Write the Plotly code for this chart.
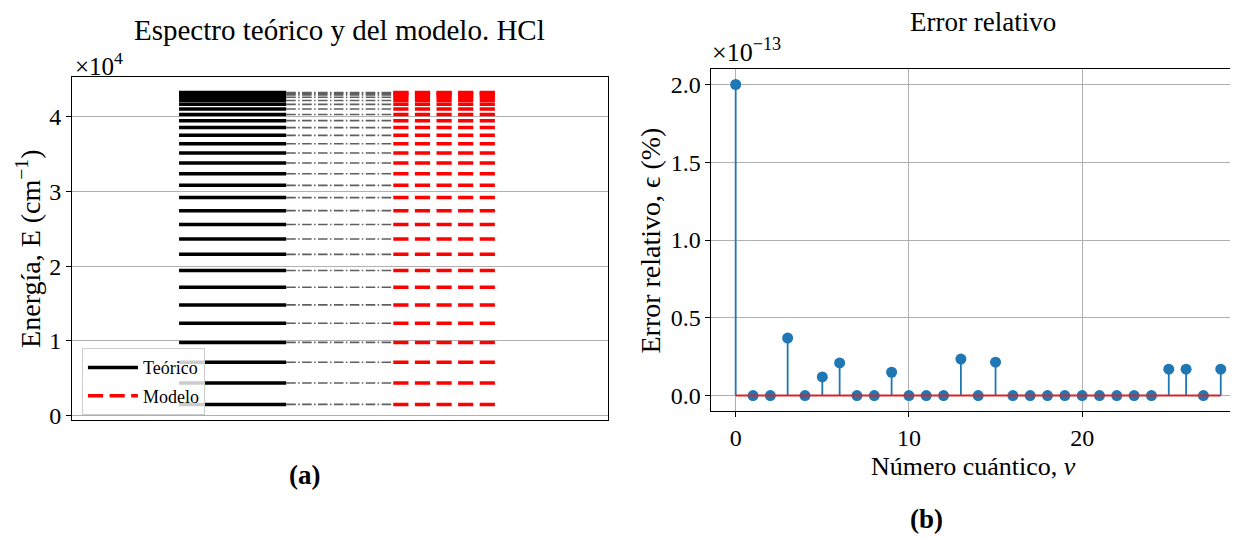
import plotly.graph_objects as go

# ---------------- data ----------------
nu = list(range(29))
# theoretical and model vibrational levels of HCl (cm^-1)
E_teorico = [1473, 4343, 7111, 9777, 12341, 14803, 17163, 19421, 21577, 23631,
             25583, 27433, 29181, 30827, 32371, 33813, 35153, 36391, 37527, 38561,
             39493, 40323, 41051, 41677, 42201, 42623, 42943, 43161, 43277]
E_modelo = [1473, 4343, 7111, 9777, 12341, 14803, 17163, 19421, 21577, 23631,
            25583, 27433, 29181, 30827, 32371, 33813, 35153, 36391, 37527, 38561,
            39493, 40323, 41051, 41677, 42201, 42623, 42943, 43161, 43277]
# relative error (%) in units of 1e-13
error_rel = [2.0, 0.0, 0.0, 0.37, 0.0, 0.12, 0.21, 0.0, 0.0, 0.15,
             0.0, 0.0, 0.0, 0.235, 0.0, 0.215, 0.0, 0.0, 0.0, 0.0,
             0.0, 0.0, 0.0, 0.0, 0.0, 0.17, 0.17, 0.0, 0.17]
y_ticks_left = [0, 1, 2, 3, 4]             # x 1e4
y_ticks_right = [0.0, 0.5, 1.0, 1.5, 2.0]  # x 1e-13
x_ticks_right = [0, 10, 20]

W, H = 1238, 538
OFF = 8  # default page margin of the html body
FONT = "Liberation Serif"

def px(x):
    return (x - OFF) / W

def py(y):
    return 1 - (y - OFF) / H

def segments(x0, x1, ys):
    xs, yy = [], []
    for y in ys:
        xs += [x0, x1, None]
        yy += [y, y, None]
    return xs, yy

fig = go.Figure()

# ---- left panel: spectrum ----
xs, yy = segments(0.2, 0.4, E_teorico)
fig.add_trace(go.Scatter(x=xs, y=yy, mode="lines", name="Teórico",
                         line=dict(color="black", width=3.5),
                         xaxis="x", yaxis="y", legendgroup="a"))
conn_x, conn_y = segments(0.4, 0.6, E_modelo)
fig.add_trace(go.Scatter(x=conn_x, y=conn_y, mode="lines", showlegend=False,
                         line=dict(color="#5f5f5f", width=1.6,
                                   dash="9.6px,2.4px,1.5px,2.4px"),
                         xaxis="x", yaxis="y"))
xs, yy = segments(0.6, 0.8, E_modelo)
fig.add_trace(go.Scatter(x=xs, y=yy, mode="lines", name="Modelo",
                         line=dict(color="red", width=3.5, dash="15.2px,6.4px"),
                         xaxis="x", yaxis="y", legendgroup="b"))

lo, hi = min(E_teorico), max(E_teorico)
pad = 0.05 * (hi - lo)

# ---- right panel: stem plot ----
sx, sy = [], []
for n, e in zip(nu, error_rel):
    sx += [n, n, None]
    sy += [0, e, None]
fig.add_trace(go.Scatter(x=sx, y=sy, mode="lines", showlegend=False,
                         line=dict(color="#1f77b4", width=1.8),
                         xaxis="x2", yaxis="y2"))
fig.add_trace(go.Scatter(x=nu, y=error_rel, mode="markers", showlegend=False,
                         marker=dict(color="#1f77b4", size=11),
                         xaxis="x2", yaxis="y2"))
fig.add_trace(go.Scatter(x=[nu[0], nu[-1]], y=[0, 0], mode="lines", showlegend=False,
                         line=dict(color="#d62728", width=2),
                         xaxis="x2", yaxis="y2"))

axis_common = dict(showline=True, linecolor="black", linewidth=1,
                   ticks="outside", ticklen=5, tickcolor="black",
                   tickfont=dict(family=FONT, size=24, color="black"),
                   gridcolor="#b0b0b0", gridwidth=1, zeroline=False)

xpad = 0.05 * (nu[-1] - nu[0])
fig.update_layout(
    width=W, height=H,
    margin=dict(l=0, r=0, t=0, b=0),
    paper_bgcolor="white", plot_bgcolor="white",
    font=dict(family=FONT, color="black"),
    xaxis=dict(domain=[px(72), px(608)], range=[0, 1], showticklabels=False,
               ticks="", showgrid=False, showline=True, linecolor="black",
               linewidth=1, mirror=True, zeroline=False, anchor="y"),
    yaxis=dict(domain=[py(427), py(78)], range=[lo - pad, hi + pad],
               tickvals=[v * 1e4 for v in y_ticks_left],
               ticktext=[str(v) for v in y_ticks_left],
               showgrid=True, mirror=True, anchor="x", **axis_common),
    xaxis2=dict(domain=[px(712), 1.0], range=[nu[0] - xpad, nu[-1] + xpad],
                tickvals=x_ticks_right, ticktext=[str(v) for v in x_ticks_right],
                showgrid=True, mirror=True, anchor="y2", **axis_common),
    yaxis2=dict(domain=[py(418), py(70)], range=[-0.1, 2.1],
                tickvals=y_ticks_right, ticktext=[f"{v:.1f}" for v in y_ticks_right],
                showgrid=True, mirror=True, anchor="x2", **axis_common),
    legend=dict(x=px(82), y=py(354), xanchor="left", yanchor="top",
                bgcolor="rgba(255,255,255,0.8)", bordercolor="#cccccc",
                borderwidth=1, font=dict(family=FONT, size=18, color="black"),
                tracegroupgap=2, itemwidth=50),
    showlegend=True,
)

ann = []
def text(x, y, s, size, xanchor="center", yanchor="middle", angle=0):
    ann.append(dict(x=px(x), y=py(y), xref="paper", yref="paper", text=s,
                    showarrow=False, xanchor=xanchor, yanchor=yanchor,
                    textangle=angle, font=dict(family=FONT, size=size, color="black")))

text(340, 30, "Espectro teórico y del modelo. HCl", 29)
text(984, 22, "Error relativo", 27)
text(73, 65, "×10<sup>4</sup>", 25, xanchor="left")
text(711, 51, "×10<sup>−13</sup>", 26, xanchor="left")
text(29, 253, "Energía, E (cm<sup>−1</sup>)", 28, angle=-90)
text(651, 244, "Error relativo, ϵ (%)", 28, angle=-90)
text(974, 474, "Número cuántico, <i>ν</i>", 26)
text(305, 483, "<b>(a)</b>", 27)
text(927, 528, "<b>(b)</b>", 27)
fig.update_layout(annotations=ann)

fig.write_html("out.html")
